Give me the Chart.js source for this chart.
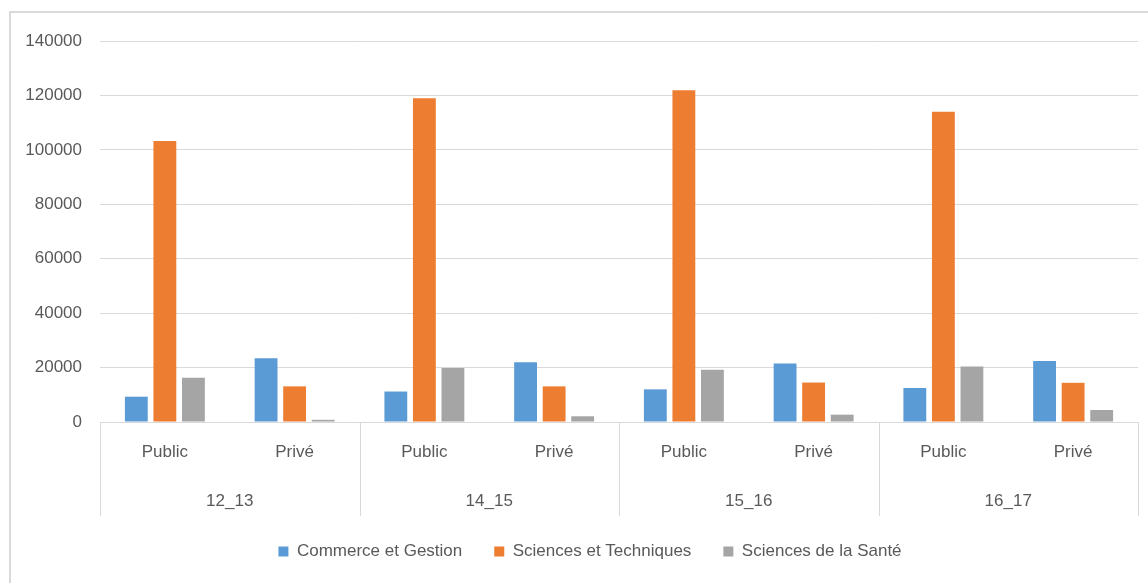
<!DOCTYPE html>
<html>
<head>
<meta charset="utf-8">
<script src="https://cdn.jsdelivr.net/npm/chart.js@4.4.1/dist/chart.umd.min.js"></script>
<style>
    html, body { margin: 0; padding: 0; background: #fff; }
    #wrap { position: relative; width: 1148px; height: 583px; }
    #frame { position: absolute; left: 9px; top: 11px; right: -10px; bottom: -10px;
             border-left: 2px solid #d9d9d9; border-top: 2px solid #d9d9d9; }
    canvas { position: absolute; left: 0; top: 0; }
</style>
</head>
<body>
<div id="wrap">
    <div id="frame"></div>
    <canvas id="chart" width="1148" height="583"></canvas>
</div>
<script>
const sectors = ['Public', 'Privé', 'Public', 'Privé', 'Public', 'Privé', 'Public', 'Privé'];
const years = ['12_13', '14_15', '15_16', '16_17'];
const commerceGestion = [9300, 23400, 11200, 22000, 12000, 21500, 12500, 22400];
const sciencesTechniques = [103300, 13100, 119000, 13100, 121900, 14500, 114000, 14400];
const sciencesSante = [16300, 800, 19800, 2100, 19200, 2700, 20400, 4400];
const yTicks = [0, 20000, 40000, 60000, 80000, 100000, 120000, 140000];

const FONT = "'Liberation Sans', Arial, sans-serif";
const SIZE = 17;
const TEXT = '#595959';
const GRID = '#d9d9d9';

// lines between the year groups, from the axis down through both label rows
const groupLines = {
    id: 'groupLines',
    afterDraw(chart) {
        const x = chart.scales.x;
        const x2 = chart.scales.x2;
        const ctx = chart.ctx;
        const edges = [chart.chartArea.left];
        for (let i = 2; i < sectors.length; i += 2) {
            edges.push((x.getPixelForValue(i - 1) + x.getPixelForValue(i)) / 2);
        }
        edges.push(chart.chartArea.right);
        ctx.save();
        ctx.strokeStyle = GRID;
        ctx.lineWidth = 1;
        edges.forEach(px => {
            const p = Math.round(px) + 0.5;
            ctx.beginPath();
            ctx.moveTo(p, chart.chartArea.bottom);
            ctx.lineTo(p, x2.bottom);
            ctx.stroke();
        });
        ctx.restore();
    }
};

// legend in the original sits a bit right of centre and a bit higher
const legendNudge = {
    id: 'legendNudge',
    afterLayout(chart) {
        const lg = chart.legend;
        lg.left += 42;
        lg.top -= 5;
        lg.bottom -= 5;
    }
};

new Chart(document.getElementById('chart'), {
    type: 'bar',
    data: {
        labels: sectors,
        datasets: [
            { label: 'Commerce et Gestion', data: commerceGestion, backgroundColor: '#5b9bd5' },
            { label: 'Sciences et Techniques', data: sciencesTechniques, backgroundColor: '#ed7d31' },
            { label: 'Sciences de la Santé', data: sciencesSante, backgroundColor: '#a5a5a5' }
        ]
    },
    options: {
        responsive: false,
        animation: false,
        datasets: { bar: { categoryPercentage: 0.66, barPercentage: 0.8, borderWidth: 0 } },
        layout: { padding: { top: 41, right: 10, bottom: 8, left: 0 } },
        scales: {
            y: {
                min: 0,
                max: 140000,
                afterBuildTicks: axis => { axis.ticks = yTicks.map(v => ({ value: v })); },
                afterFit: axis => { axis.width = 100; },
                border: { display: false },
                grid: { color: GRID, lineWidth: 1, drawTicks: false },
                ticks: { color: TEXT, padding: 18, font: { family: FONT, size: SIZE }, callback: v => String(v) }
            },
            x: {
                afterFit: axis => { axis.height = 63; },
                border: { display: false },
                grid: { display: false, drawTicks: false },
                ticks: { color: TEXT, padding: 20, font: { family: FONT, size: SIZE } }
            },
            x2: {
                type: 'category',
                labels: years,
                position: 'bottom',
                offset: true,
                afterFit: axis => { axis.height = 31; },
                border: { display: false },
                grid: { display: false, drawTicks: false },
                ticks: { color: TEXT, padding: 6, font: { family: FONT, size: SIZE } }
            }
        },
        plugins: {
            legend: {
                position: 'bottom',
                labels: {
                    boxWidth: 10,
                    boxHeight: 10,
                    padding: 32,
                    color: TEXT,
                    font: { family: FONT, size: SIZE }
                }
            },
            tooltip: { enabled: false }
        }
    },
    plugins: [groupLines, legendNudge]
});
</script>
</body>
</html>
